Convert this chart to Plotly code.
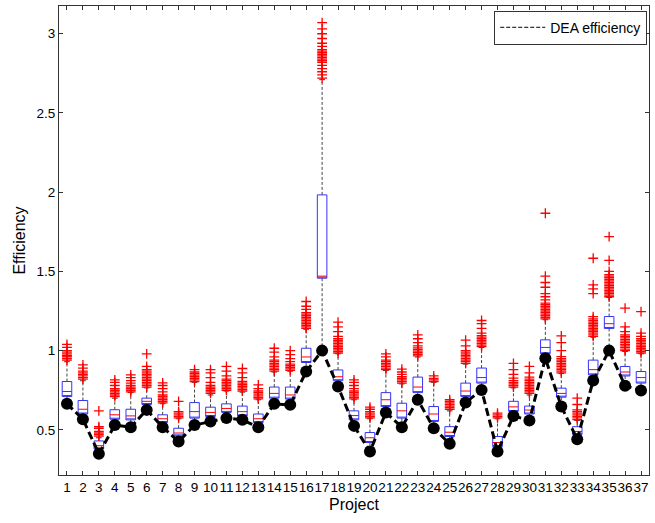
import plotly.graph_objects as go

projects = list(range(1, 38))
tick_labels = [str(p) for p in projects]

dea = [0.664, 0.567, 0.349, 0.530, 0.517, 0.626, 0.517, 0.426, 0.530, 0.553,
       0.574, 0.563, 0.517, 0.664, 0.658, 0.868, 1.000, 0.773, 0.525, 0.363,
       0.610, 0.517, 0.690, 0.510, 0.412, 0.672, 0.752, 0.363, 0.588, 0.559,
       0.952, 0.647, 0.441, 0.811, 1.000, 0.778, 0.748]

q1 = [0.710, 0.600, 0.380, 0.567, 0.563, 0.660, 0.546, 0.462, 0.574, 0.584,
      0.610, 0.588, 0.546, 0.700, 0.694, 0.925, 1.457, 0.810, 0.563, 0.420,
      0.647, 0.574, 0.735, 0.553, 0.458, 0.710, 0.795, 0.395, 0.616, 0.600,
      0.980, 0.706, 0.470, 0.847, 1.140, 0.840, 0.795]
med = [0.742, 0.630, 0.400, 0.595, 0.588, 0.680, 0.570, 0.480, 0.615, 0.610,
       0.635, 0.615, 0.570, 0.730, 0.720, 0.960, 1.470, 0.835, 0.590, 0.450,
       0.690, 0.620, 0.770, 0.600, 0.485, 0.745, 0.830, 0.420, 0.645, 0.625,
       1.020, 0.730, 0.490, 0.880, 1.170, 0.865, 0.830]
q3 = [0.805, 0.685, 0.430, 0.627, 0.630, 0.700, 0.595, 0.510, 0.672, 0.643,
      0.664, 0.650, 0.600, 0.770, 0.770, 1.015, 1.983, 0.878, 0.620, 0.483,
      0.735, 0.668, 0.833, 0.647, 0.520, 0.795, 0.890, 0.458, 0.680, 0.650,
      1.068, 0.763, 0.520, 0.940, 1.215, 0.900, 0.868]
lower_whisker = [0.670, 0.570, 0.350, 0.535, 0.520, 0.630, 0.520, 0.430, 0.535, 0.555,
                 0.575, 0.565, 0.520, 0.665, 0.660, 0.870, 1.010, 0.775, 0.527, 0.365,
                 0.612, 0.520, 0.690, 0.512, 0.415, 0.674, 0.755, 0.365, 0.590, 0.560,
                 0.955, 0.650, 0.443, 0.815, 1.010, 0.780, 0.750]
upper_whisker = [0.930, 0.810, 0.450, 0.700, 0.735, 0.765, 0.665, 0.570, 0.800, 0.720,
                 0.745, 0.738, 0.690, 0.865, 0.870, 1.135, 2.710, 0.980, 0.690, 0.570,
                 0.875, 0.790, 0.960, 0.800, 0.620, 0.915, 1.020, 0.570, 0.765, 0.720,
                 1.195, 0.855, 0.560, 1.085, 1.335, 0.995, 0.980]

outliers = [
    [0.94, 0.95, 0.96, 0.965, 0.97, 0.98, 0.99, 1.0, 1.02, 1.04],
    [0.82, 0.83, 0.84, 0.85, 0.86, 0.87, 0.89, 0.91],
    [0.46, 0.47, 0.48, 0.49, 0.51, 0.52, 0.62],
    [0.71, 0.72, 0.73, 0.74, 0.75, 0.76, 0.78, 0.80, 0.815],
    [0.74, 0.75, 0.76, 0.77, 0.78, 0.795, 0.81, 0.83, 0.847],
    [0.77, 0.78, 0.79, 0.80, 0.81, 0.82, 0.83, 0.84, 0.85, 0.86, 0.87, 0.88, 0.90, 0.98],
    [0.67, 0.68, 0.69, 0.70, 0.71, 0.72, 0.74, 0.76, 0.78, 0.796],
    [0.575, 0.585, 0.595, 0.605, 0.615, 0.68],
    [0.805, 0.815, 0.825, 0.835, 0.845, 0.855, 0.865, 0.88],
    [0.73, 0.74, 0.75, 0.76, 0.77, 0.78, 0.80, 0.83, 0.86, 0.88],
    [0.75, 0.76, 0.77, 0.78, 0.79, 0.80, 0.81, 0.82, 0.84, 0.87, 0.90],
    [0.745, 0.755, 0.765, 0.775, 0.785, 0.795, 0.805, 0.83, 0.86, 0.887],
    [0.695, 0.705, 0.715, 0.725, 0.735, 0.745, 0.76, 0.784],
    [0.87, 0.88, 0.89, 0.90, 0.91, 0.92, 0.93, 0.94, 0.96, 0.99, 1.015],
    [0.875, 0.885, 0.895, 0.905, 0.915, 0.93, 0.95, 0.975, 1.0],
    [1.14, 1.15, 1.16, 1.17, 1.18, 1.19, 1.20, 1.21, 1.22, 1.23, 1.24, 1.26, 1.28, 1.31],
    [2.72, 2.74, 2.76, 2.78, 2.80, 2.82, 2.83, 2.84, 2.85, 2.86, 2.87, 2.88, 2.89,
     2.90, 2.92, 2.94, 2.97, 3.00, 3.03, 3.07],
    [0.985, 0.995, 1.005, 1.015, 1.025, 1.035, 1.045, 1.055, 1.065, 1.075, 1.09, 1.12, 1.15, 1.18],
    [0.695, 0.705, 0.715, 0.725, 0.735, 0.745, 0.76, 0.78, 0.80, 0.815],
    [0.575, 0.585, 0.595, 0.605, 0.615, 0.63, 0.643],
    [0.88, 0.89, 0.90, 0.91, 0.92, 0.93, 0.94, 0.96, 0.98],
    [0.795, 0.805, 0.815, 0.825, 0.835, 0.85, 0.865, 0.883],
    [0.967, 0.977, 0.987, 0.997, 1.007, 1.017, 1.03, 1.05, 1.075, 1.10],
    [0.805, 0.815, 0.825, 0.84],
    [0.63, 0.64, 0.65, 0.66, 0.67, 0.68, 0.69],
    [0.92, 0.93, 0.94, 0.95, 0.96, 0.97, 0.98, 0.99, 1.0, 1.03, 1.066],
    [1.025, 1.035, 1.045, 1.055, 1.065, 1.075, 1.085, 1.095, 1.11, 1.14, 1.17, 1.19],
    [0.575, 0.585, 0.595, 0.605],
    [0.77, 0.78, 0.79, 0.80, 0.81, 0.826, 0.85, 0.88, 0.92],
    [0.73, 0.74, 0.75, 0.76, 0.77, 0.78, 0.79, 0.80, 0.81, 0.82, 0.833, 0.86, 0.90],
    [1.20, 1.21, 1.22, 1.23, 1.24, 1.25, 1.26, 1.27, 1.28, 1.29, 1.30, 1.32, 1.34, 1.36,
     1.40, 1.43, 1.47, 1.867],
    [0.86, 0.87, 0.88, 0.89, 0.90, 0.91, 0.92, 0.93, 0.94, 0.95, 0.962, 1.0, 1.05, 1.093],
    [0.565, 0.575, 0.585, 0.595, 0.605, 0.615, 0.626, 0.66, 0.70],
    [1.09, 1.10, 1.11, 1.12, 1.13, 1.14, 1.15, 1.16, 1.17, 1.18, 1.19, 1.20, 1.215,
     1.36, 1.39, 1.415, 1.583],
    [1.34, 1.35, 1.36, 1.37, 1.38, 1.39, 1.40, 1.41, 1.42, 1.43, 1.44, 1.45, 1.46, 1.47,
     1.48, 1.50, 1.57, 1.72],
    [1.00, 1.01, 1.02, 1.03, 1.04, 1.05, 1.06, 1.07, 1.08, 1.09, 1.10, 1.12, 1.15, 1.268],
    [0.985, 0.995, 1.005, 1.015, 1.025, 1.035, 1.045, 1.055, 1.065, 1.075, 1.09, 1.11, 1.246],
]

FONT = "Liberation Sans, Arial, sans-serif"
BOX_HALF = 0.3
CAP_HALF = 0.18

fig = go.Figure()

# whiskers (dashed)
wx, wy = [], []
for p, a, b, c, d in zip(projects, q3, upper_whisker, q1, lower_whisker):
    wx += [p, p, None, p, p, None]
    wy += [a, b, None, c, d, None]
fig.add_trace(go.Scatter(x=wx, y=wy, mode="lines", showlegend=False, hoverinfo="skip",
                         line=dict(color="#444444", width=1, dash="3px,2px")))

# whisker caps
cx, cy = [], []
for p, b, d in zip(projects, upper_whisker, lower_whisker):
    cx += [p - CAP_HALF, p + CAP_HALF, None, p - CAP_HALF, p + CAP_HALF, None]
    cy += [b, b, None, d, d, None]
fig.add_trace(go.Scatter(x=cx, y=cy, mode="lines", showlegend=False, hoverinfo="skip",
                         line=dict(color="#333333", width=1)))

# boxes
fig.add_trace(go.Box(x=projects, q1=q1, median=q1, q3=q3, lowerfence=q1, upperfence=q3,
                     width=2 * BOX_HALF, whiskerwidth=0, showlegend=False,
                     line=dict(color="#3333ff", width=1), fillcolor="rgba(255,255,255,0)",
                     hoverinfo="skip"))

# medians
mx, my = [], []
for p, m in zip(projects, med):
    mx += [p - BOX_HALF, p + BOX_HALF, None]
    my += [m, m, None]
fig.add_trace(go.Scatter(x=mx, y=my, mode="lines", showlegend=False, hoverinfo="skip",
                         line=dict(color="#ff0000", width=1)))

# outliers
ox, oy = [], []
for p, vals in zip(projects, outliers):
    for v in vals:
        ox.append(p)
        oy.append(v)
fig.add_trace(go.Scatter(x=ox, y=oy, mode="markers", showlegend=False, hoverinfo="skip",
                         marker=dict(symbol="cross-thin", size=7, color="red",
                                     line=dict(color="red", width=1.3))))

# DEA efficiency
fig.add_trace(go.Scatter(x=projects, y=dea, mode="lines+markers", showlegend=False,
                         line=dict(color="black", width=3, dash="8px,4px"),
                         marker=dict(symbol="circle", size=12, color="black")))
fig.add_trace(go.Scatter(x=[None], y=[None], mode="lines", name="DEA efficiency",
                         line=dict(color="black", width=1, dash="4px,2px")))

fig.update_layout(
    width=655, height=523,
    margin=dict(l=59, r=6, t=6, b=48),
    paper_bgcolor="white", plot_bgcolor="white",
    font=dict(family=FONT, size=13, color="black"),
    legend=dict(x=0.997, y=0.99, xanchor="right", yanchor="top",
                bordercolor="#333333", borderwidth=1, bgcolor="white",
                font=dict(size=14), itemwidth=45, tracegroupgap=0),
    xaxis=dict(range=[0.5, 37.5], tickmode="array", tickvals=projects, ticktext=tick_labels,
               tickangle=0, ticks="inside", ticklen=4, tickcolor="#333333",
               showline=True, linecolor="#333333", linewidth=1, mirror="ticks",
               showgrid=False, zeroline=False, tickfont=dict(size=13.5),
               title=dict(text="Project", font=dict(size=16), standoff=4)),
    yaxis=dict(range=[0.215, 3.175], tickmode="array", tickvals=[0.5, 1, 1.5, 2, 2.5, 3],
               ticktext=["0.5", "1", "1.5", "2", "2.5", "3"],
               ticks="inside", ticklen=4, tickcolor="#333333",
               showline=True, linecolor="#333333", linewidth=1, mirror="ticks",
               showgrid=False, zeroline=False, tickfont=dict(size=13.5),
               title=dict(text="Efficiency", font=dict(size=16), standoff=6)),
)

fig.write_html("out.html", config={"displayModeBar": False},
               post_script="document.body.style.margin='0';document.body.style.overflow='hidden';")
